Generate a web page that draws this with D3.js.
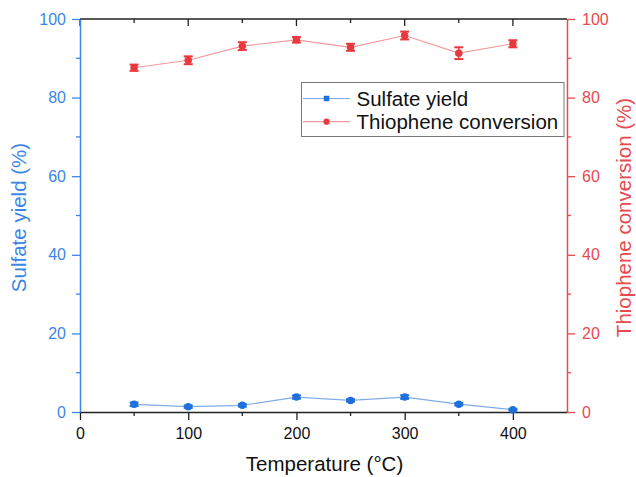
<!DOCTYPE html>
<html>
<head>
<meta charset="utf-8">
<script src="https://cdn.jsdelivr.net/npm/d3@7"></script>
<style>
  html, body { margin: 0; padding: 0; background: #fff; }
  svg { display: block; font-family: "Liberation Sans", Arial, sans-serif; }
</style>
</head>
<body>
<svg id="chart" width="636" height="477"></svg>
<script>
// ---- data ----
const temperatures = [50, 100, 150, 200, 250, 300, 350, 400];
const sulfateYield = [1.95, 1.35, 1.7, 3.8, 2.95, 3.8, 2.0, 0.6];
const sulfateErr   = [0.45, 0.3, 0.3, 0.4, 0.3, 0.45, 0.3, 0.2];
const thiopheneConv = [87.6, 89.5, 93.1, 94.7, 92.8, 95.8, 91.3, 93.7];
const thiopheneErr  = [0.8, 1.0, 1.0, 0.7, 0.9, 1.0, 1.5, 0.9];
const xTicks = [0, 100, 200, 300, 400];
const xMinorTicks = [50, 150, 250, 350];
const yTicks = [0, 20, 40, 60, 80, 100];
const yMinorTicks = [10, 30, 50, 70, 90];
const seriesNames = ["Sulfate yield", "Thiophene conversion"];

(function () {
const blue = "#1f6fdc", blueAxis = "#3d86e6", blueLine = "#80acea";
const red = "#e83a3e", redAxis = "#e84a4e", redLine = "#f09a9c";
const tickFont = 16, titleFont = 20.5;

const svg = d3.select("#chart");
const m = { left: 80, right: 567, top: 19, bottom: 412 };

const x = d3.scaleLinear().domain([0, 450]).range([m.left, m.right]);
const yL = d3.scaleLinear().domain([0, 100]).range([m.bottom, m.top]);
const yR = d3.scaleLinear().domain([0, 100]).range([m.bottom, m.top]);

// top frame line with inward ticks
const topG = svg.append("g").attr("transform", `translate(0,${m.top})`);
topG.append("line").attr("x1", m.left).attr("x2", m.right).attr("stroke", "#222").attr("stroke-width", 1.5);
topG.selectAll(".tM").data(xTicks).join("line")
  .attr("x1", d => x(d)).attr("x2", d => x(d)).attr("y1", 0).attr("y2", 7)
  .attr("stroke", "#222").attr("stroke-width", 1.3);
topG.selectAll(".tm").data(xMinorTicks).join("line")
  .attr("x1", d => x(d)).attr("x2", d => x(d)).attr("y1", 0).attr("y2", 4)
  .attr("stroke", "#222").attr("stroke-width", 1.3);

// bottom axis
const xAxis = svg.append("g").attr("transform", `translate(0,${m.bottom})`)
  .call(d3.axisBottom(x).tickValues(xTicks).tickSize(8).tickPadding(8).tickSizeOuter(0));
xAxis.select(".domain").attr("stroke", "#222").attr("stroke-width", 1.5);
xAxis.selectAll(".tick line").attr("stroke", "#222").attr("stroke-width", 1.3);
xAxis.selectAll(".tick text").attr("fill", "#111").attr("font-size", tickFont);
xAxis.selectAll(".minor").data(xMinorTicks).join("line")
  .attr("x1", d => x(d)).attr("x2", d => x(d)).attr("y1", 0).attr("y2", 4)
  .attr("stroke", "#222").attr("stroke-width", 1.3);

// left axis
const yAxisL = svg.append("g").attr("transform", `translate(${m.left},0)`)
  .call(d3.axisLeft(yL).tickValues(yTicks).tickSize(8).tickPadding(6).tickSizeOuter(0));
yAxisL.select(".domain").attr("stroke", blueAxis).attr("stroke-width", 1.5);
yAxisL.selectAll(".tick line").attr("stroke", blueAxis).attr("stroke-width", 1.3);
yAxisL.selectAll(".tick text").attr("fill", blueAxis).attr("font-size", tickFont);
yAxisL.selectAll(".minor").data(yMinorTicks).join("line")
  .attr("x1", 0).attr("x2", -4).attr("y1", d => yL(d)).attr("y2", d => yL(d))
  .attr("stroke", blueAxis).attr("stroke-width", 1.3);

// right axis
const yAxisR = svg.append("g").attr("transform", `translate(${m.right},0)`)
  .call(d3.axisRight(yR).tickValues(yTicks).tickSize(8).tickPadding(7).tickSizeOuter(0));
yAxisR.select(".domain").attr("stroke", redAxis).attr("stroke-width", 1.5);
yAxisR.selectAll(".tick line").attr("stroke", redAxis).attr("stroke-width", 1.3);
yAxisR.selectAll(".tick text").attr("fill", redAxis).attr("font-size", tickFont);
yAxisR.selectAll(".minor").data(yMinorTicks).join("line")
  .attr("x1", 0).attr("x2", 4).attr("y1", d => yR(d)).attr("y2", d => yR(d))
  .attr("stroke", redAxis).attr("stroke-width", 1.3);

// axis titles
svg.append("text").attr("x", (m.left + m.right) / 2 + 1).attr("y", 471)
  .attr("text-anchor", "middle").attr("font-size", titleFont).attr("fill", "#111")
  .text("Temperature (\u00B0C)");
svg.append("text").attr("transform", `translate(26,${(m.top + m.bottom) / 2 + 2}) rotate(-90)`)
  .attr("text-anchor", "middle").attr("font-size", titleFont).attr("fill", blueAxis)
  .text("Sulfate yield (%)");
svg.append("text").attr("transform", `translate(624,${(m.top + m.bottom) / 2 + 2}) rotate(-90)`)
  .attr("text-anchor", "middle").attr("font-size", titleFont).attr("fill", redAxis)
  .attr("dy", "0.35em")
  .text("Thiophene conversion (%)");

// series drawing
function drawSeries(vals, errs, yScale, color, lineColor) {
  const g = svg.append("g");
  const pts = temperatures.map((t, i) => ({ t, v: vals[i], e: errs[i] }));
  g.append("path").datum(pts)
    .attr("fill", "none").attr("stroke", lineColor).attr("stroke-width", 1.2)
    .attr("d", d3.line().x(d => x(d.t)).y(d => yScale(d.v)));
  const eb = g.selectAll(".eb").data(pts).join("g");
  eb.append("line").attr("x1", d => x(d.t)).attr("x2", d => x(d.t))
    .attr("y1", d => yScale(d.v - d.e)).attr("y2", d => yScale(d.v + d.e))
    .attr("stroke", color).attr("stroke-width", 1.5);
  eb.append("line").attr("x1", d => x(d.t) - 4.5).attr("x2", d => x(d.t) + 4.5)
    .attr("y1", d => yScale(d.v - d.e)).attr("y2", d => yScale(d.v - d.e))
    .attr("stroke", color).attr("stroke-width", 2);
  eb.append("line").attr("x1", d => x(d.t) - 4.5).attr("x2", d => x(d.t) + 4.5)
    .attr("y1", d => yScale(d.v + d.e)).attr("y2", d => yScale(d.v + d.e))
    .attr("stroke", color).attr("stroke-width", 2);
  const sym = d3.symbol().type(d3.symbolCircle).size(44);
  g.selectAll(".pt").data(pts).join("path")
    .attr("transform", d => `translate(${x(d.t)},${yScale(d.v)})`)
    .attr("d", sym).attr("fill", color);
}
drawSeries(sulfateYield, sulfateErr, yL, blue, blueLine);
drawSeries(thiopheneConv, thiopheneErr, yR, red, redLine);

// legend
const leg = svg.append("g");
leg.append("rect").attr("x", 301.5).attr("y", 82.5).attr("width", 262.5).attr("height", 54)
  .attr("fill", "#fff").attr("stroke", "#777").attr("stroke-width", 1);
const legItems = [
  { name: seriesNames[0], color: blue, line: blueLine, shape: d3.symbolSquare, size: 30 },
  { name: seriesNames[1], color: red, line: redLine, shape: d3.symbolCircle, size: 30 }
];
legItems.forEach((it, i) => {
  const yy = 98.5 + i * 23.2;
  leg.append("line").attr("x1", 303).attr("x2", 350).attr("y1", yy).attr("y2", yy)
    .attr("stroke", it.line).attr("stroke-width", 1.2);
  leg.append("path").attr("transform", `translate(326.5,${yy})`)
    .attr("d", d3.symbol().type(it.shape).size(it.size)).attr("fill", it.color);
  leg.append("text").attr("x", 356.5).attr("y", yy).attr("dy", "0.35em")
    .attr("font-size", 20.5).attr("fill", "#111").text(it.name);
});
})();
</script>
</body>
</html>
